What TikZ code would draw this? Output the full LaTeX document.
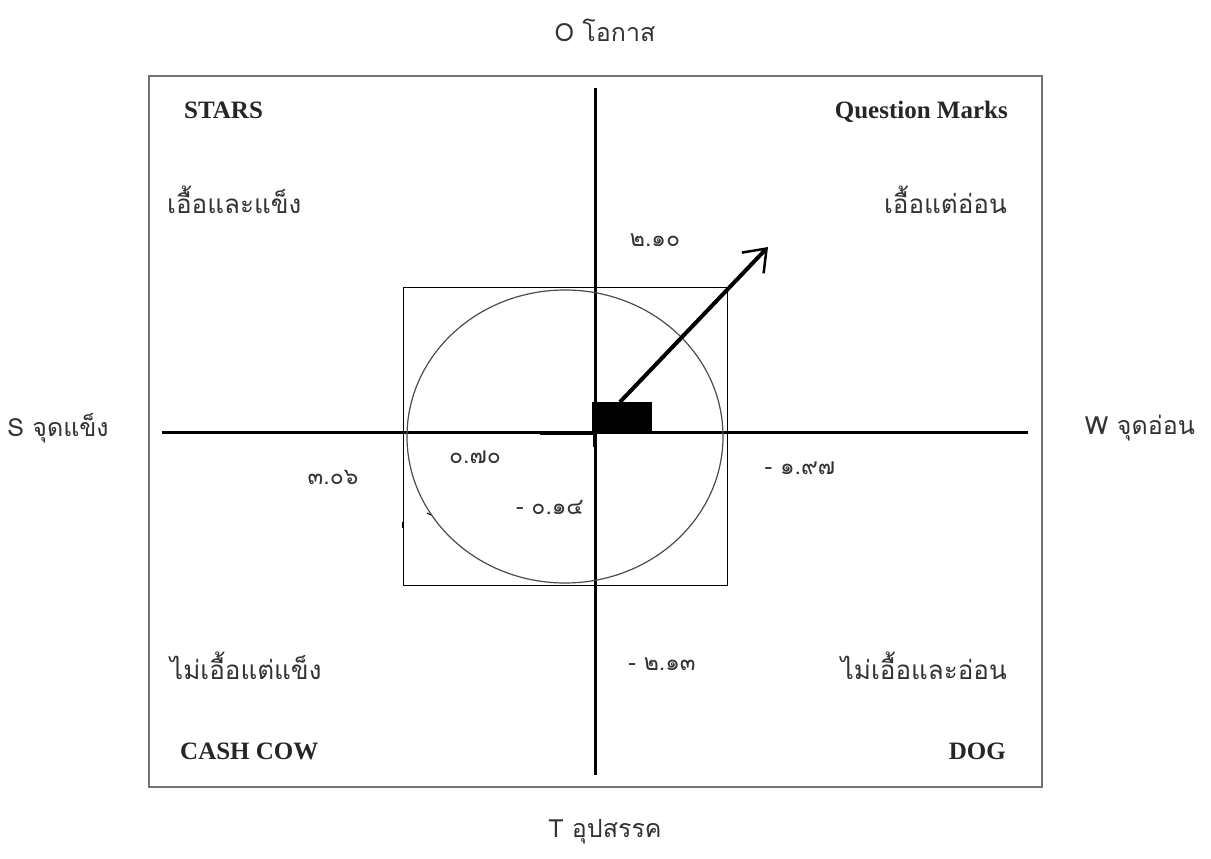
\documentclass[tikz,border=0pt]{standalone}
\usepackage{fontspec}
\setmainfont{Liberation Serif}
\newfontfamily\thai[Script=Thai]{Loma}
\usetikzlibrary{arrows.meta}
\begin{document}
\begin{tikzpicture}[x=1pt,y=-1pt,
  axis/.style={line width=3pt,black},
  frame/.style={line width=2pt,draw=black!55},
  thin/.style={line width=1pt,black},
  eng/.style={inner sep=0pt,font=\fontsize{25}{28}\selectfont\bfseries,text=black!85},
  thq/.style={inner sep=0pt,font=\thai\fontsize{26}{30}\selectfont,text=black!80},
  side/.style={inner sep=0pt,font=\thai\fontsize{25}{29}\selectfont,text=black!80},
  num/.style={inner sep=0pt,font=\thai\fontsize{23}{26}\selectfont,text=black!80}]
\useasboundingbox (0,0) rectangle (1211,859);
\fill[white] (0,0) rectangle (1211,859);
% frame
\draw[frame] (149,76) rectangle (1042,787);
% axes
\coordinate (vt) at (595,88);
\coordinate (vb) at (595,775);
\coordinate (hl) at (162,432);
\coordinate (hr) at (1028,432);
\draw[axis] (vt) -- (vb);
\draw[axis] (hl) -- (hr);
% inner square and circle
\draw[thin] (403,287) rectangle (727,585);
\draw[line width=1.2pt,black!70] (565,436.5) ellipse [x radius=158, y radius=146.5];
% black block and thick bit
\fill[black] (592,402) rectangle (652,433);
\coordinate (sl) at (540,433);
\coordinate (sr) at (594,433);
\draw[line width=4.5pt] (sl) -- (sr);
\draw[line width=3.5pt] (595,432) -- (595,447);
% arrow
\coordinate (as) at (620,402);
\coordinate (ae) at (768,247);
\draw[line width=4pt,-{Straight Barb[length=20pt,width=30pt,line width=2.5pt]}] (as) -- (ae);
% small ticks
\draw[line width=1pt] (427,513) -- (431,515);
\draw[line width=1pt] (402,522) -- (402,528);
% side labels
\node[side] (o) at (605,30) {O โอกาส};
\node[side] (s) at (58,428) {S จุดแข็ง};
\node[side] (w) at (1140,428) {W จุดอ่อน};
\node[side] (t) at (605,832) {T อุปสรรค};
% quadrant names
\node[eng,anchor=west] (stars) at (184,110) {STARS};
\node[eng,anchor=east] (qm) at (1008,112) {Question Marks};
\node[eng,anchor=west] (cc) at (180,751) {CASH COW};
\node[eng,anchor=east] (dog) at (1006,751) {DOG};
\node[thq,anchor=west] (q1) at (167,200) {เอื้อและแข็ง};
\node[thq,anchor=east] (q2) at (1007,200) {เอื้อแต่อ่อน};
\node[thq,anchor=west] (q3) at (170,666) {ไม่เอื้อแต่แข็ง};
\node[thq,anchor=east] (q4) at (1007,666) {ไม่เอื้อและอ่อน};
% numbers
\node[num] (n1) at (655,240) {๒.๑๐};
\node[num] (n2) at (333,477) {๓.๐๖};
\node[num] (n3) at (475,457) {๐.๗๐};
\node[num] (n4) at (550,507) {- ๐.๑๔};
\node[num] (n5) at (800,468) {- ๑.๙๗};
\node[num] (n6) at (662,664) {- ๒.๑๓};
\end{tikzpicture}
\end{document}
